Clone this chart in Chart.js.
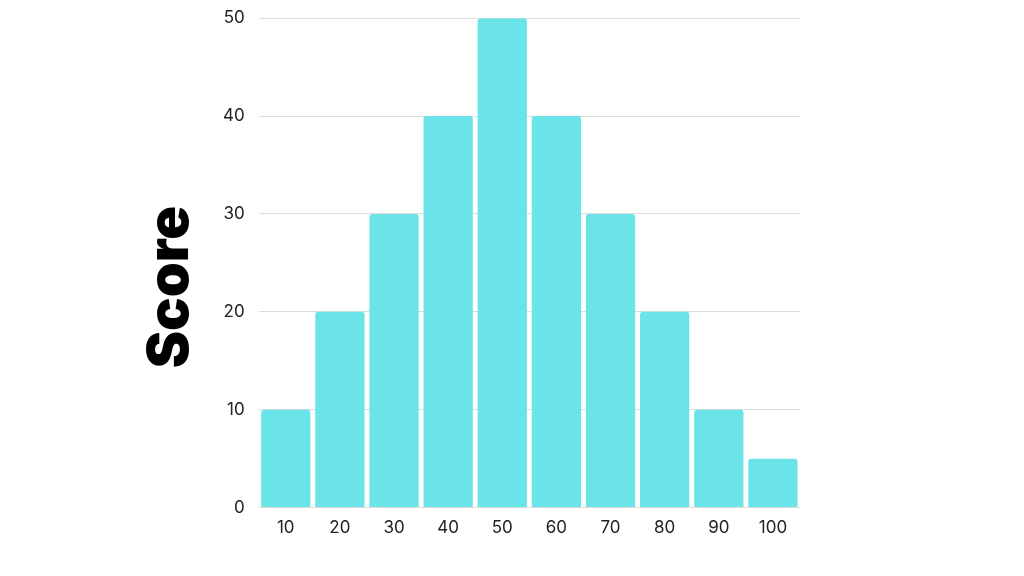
<!DOCTYPE html>
<html>
<head>
<meta charset="utf-8">
<script src="https://cdn.jsdelivr.net/npm/chart.js@4"></script>
<style>
  html, body { margin: 0; padding: 0; background: #fff; }
  #wrap { width: 1024px; height: 576px; }
</style>
</head>
<body>
<div id="wrap"><canvas id="chart" width="1024" height="576"></canvas></div>
<script>
const categories = ["10", "20", "30", "40", "50", "60", "70", "80", "90", "100"];
const scores = [10, 20, 30, 40, 50, 40, 30, 20, 10, 5];
const yTicks = [0, 10, 20, 30, 40, 50];
const yTitle = "Score";

// Big rotated axis title, centred on the canvas height like the reference
const sideTitle = {
  id: "sideTitle",
  afterDraw(chart) {
    let c = chart.ctx;
    c.save();
    c.translate(171, 287);
    c.rotate(-Math.PI / 2);
    c.font = "900 56px Inter";
    c.fillStyle = "#000";
    c.textAlign = "center";
    c.textBaseline = "middle";
    c.fillText(yTitle, 0, 0);
    c.restore();
  },
};

let ctx = document.getElementById("chart").getContext("2d");

new Chart(ctx, {
  type: "bar",
  data: {
    labels: categories,
    datasets: [
      {
        label: yTitle,
        data: scores,
        backgroundColor: "#6ae4e9",
        borderRadius: { topLeft: 3, topRight: 3, bottomLeft: 0, bottomRight: 0 },
        borderSkipped: "bottom",
        barPercentage: 0.91,
        categoryPercentage: 1.0,
      },
    ],
  },
  options: {
    responsive: false,
    animation: false,
    layout: { padding: { left: 209, right: 224, top: 0, bottom: 36 } },
    plugins: { legend: { display: false }, tooltip: { enabled: false } },
    scales: {
      x: {
        grid: { display: false },
        border: { display: false },
        ticks: { color: "#222", font: { family: "Inter", size: 17 }, padding: 2 },
      },
      y: {
        min: 0,
        max: 50,
        afterBuildTicks: (axis) => {
          axis.ticks = yTicks.map((v) => ({ value: v }));
        },
        grid: { color: "#dddddd", drawTicks: false },
        border: { display: false },
        ticks: { color: "#222", font: { family: "Inter", size: 17, lineHeight: 0.5 }, padding: 14 },
      },
    },
  },
  plugins: [sideTitle],
});
</script>
</body>
</html>
